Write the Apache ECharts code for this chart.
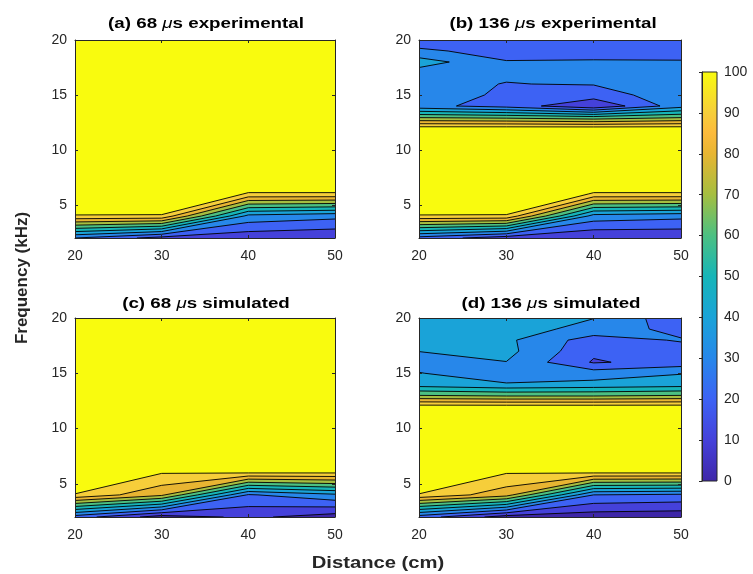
<!DOCTYPE html>
<html>
<head>
<meta charset="utf-8">
<script src="https://cdn.jsdelivr.net/npm/echarts@6/dist/echarts.min.js"></script>
<style>
  html, body { margin: 0; padding: 0; background: #fff; }
  #main { width: 753px; height: 574px; }
</style>
</head>
<body>
<div id="main"></div>
<script>
// grid of the measurements
var distance = [20, 30, 40, 50];
var frequency = [2, 4, 6, 8, 10, 12, 13, 14, 15, 16, 17, 18, 19, 20];
var levels = [0, 10, 20, 30, 40, 50, 60, 70, 80, 90, 100];
var freqTicks = [5, 10, 15, 20];

// one row per frequency (bottom to top), one column per distance
var exp68 = [
    [30, 16, 13, 11],
    [98.5, 98, 37, 33],
    [130, 130, 98, 98],
    [130, 130, 130, 130],
    [130, 130, 130, 130],
    [130, 130, 130, 130],
    [130, 130, 130, 130],
    [130, 130, 130, 130],
    [130, 130, 130, 130],
    [130, 130, 130, 130],
    [130, 130, 130, 130],
    [130, 130, 130, 130],
    [130, 130, 130, 130],
    [130, 130, 130, 130]
];
var exp136 = [
    [26, 14, 10.5, 11],
    [98.5, 98, 36, 33],
    [130, 130, 98, 98],
    [130, 130, 130, 130],
    [130, 130, 130, 130],
    [104, 104, 104, 104],
    [68, 66, 62, 68],
    [33, 26, 11, 36],
    [33, 29, 25, 36],
    [32, 29.8, 30.5, 34],
    [35, 31, 33, 33],
    [45, 30.6, 31, 30.8],
    [32, 26, 26, 26],
    [24, 24, 24, 24]
];
var sim68 = [
    [25, 5, 12, 5],
    [98.5, 82, 29, 38],
    [130, 100.5, 100.5, 100.5],
    [130, 130, 130, 130],
    [130, 130, 130, 130],
    [130, 130, 130, 130],
    [130, 130, 130, 130],
    [130, 130, 130, 130],
    [130, 130, 130, 130],
    [130, 130, 130, 130],
    [130, 130, 130, 130],
    [130, 130, 130, 130],
    [130, 130, 130, 130],
    [130, 130, 130, 130]
];
var sim136 = [
    [25, 5, 4, 3],
    [98.5, 84, 30, 28],
    [130, 100.5, 100.5, 100.5],
    [130, 130, 130, 130],
    [130, 130, 130, 130],
    [104, 104, 104, 104],
    [70, 68, 68, 70],
    [45, 41, 43, 45],
    [40.5, 33, 35, 39.5],
    [35, 39.8, 19, 24],
    [40.2, 43, 22, 25],
    [44, 42, 25, 31],
    [45, 44, 37, 26],
    [46, 45, 40.2, 23]
];

var titles = [
    '(a) 68 {mu|\u03bc}s experimental',
    '(b) 136 {mu|\u03bc}s experimental',
    '(c) 68 {mu|\u03bc}s simulated',
    '(d) 136 {mu|\u03bc}s simulated'
];
var colorbarTicks = [0, 10, 20, 30, 40, 50, 60, 70, 80, 90, 100];

// parula-like colormap
var parula = [
    [0, '#3E26A8'], [10, '#4541DA'], [20, '#3D62F4'], [30, '#2787EA'],
    [40, '#1AA3D8'], [50, '#16B5B8'], [60, '#4CC082'], [70, '#A5BE40'],
    [80, '#E8B532'], [85, '#FCBA3C'], [90, '#F6CE3A'], [100, '#F9FB0E']
];
function colorAt(v) {
    for (var i = 0; i < parula.length; i++) if (parula[i][0] === v) return parula[i][1];
    return parula[parula.length - 1][1];
}

var panels = [
    { values: exp68, left: 75, top: 40, width: 260, height: 198, cx: 206, ty: 24 },
    { values: exp136, left: 419, top: 40, width: 262, height: 198, cx: 553, ty: 24 },
    { values: sim68, left: 75, top: 318, width: 260, height: 199, cx: 206, ty: 304 },
    { values: sim136, left: 419, top: 318, width: 262, height: 199, cx: 551, ty: 304 }
];

// keep the part of a grid cell where value >= lv (corners go round the cell)
function clip(corners, lv) {
    var out = [];
    for (var n = 0; n < 4; n++) {
        var a = corners[n], b = corners[(n + 1) % 4];
        var ina = a[2] >= lv, inb = b[2] >= lv;
        if (ina) out.push([a[0], a[1], a[2], false]);
        if (ina !== inb) {
            var t = (lv - a[2]) / (b[2] - a[2]);
            out.push([a[0] + t * (b[0] - a[0]), a[1] + t * (b[1] - a[1]), lv, true]);
        }
    }
    return out;
}
function fmt(p) { return p[0].toFixed(2) + ' ' + p[1].toFixed(2); }

function contourRenderer(values) {
    return function (params, api) {
        if (params.dataIndex !== 0) return null;
        var fills = levels.map(function () { return ''; });
        var lines = levels.map(function () { return ''; });
        for (var j = 0; j < frequency.length - 1; j++) {
            for (var i = 0; i < distance.length - 1; i++) {
                var corners = [
                    [distance[i], frequency[j], values[j][i]],
                    [distance[i + 1], frequency[j], values[j][i + 1]],
                    [distance[i + 1], frequency[j + 1], values[j + 1][i + 1]],
                    [distance[i], frequency[j + 1], values[j + 1][i]]
                ];
                levels.forEach(function (lv, k) {
                    var poly = clip(corners, lv);
                    if (poly.length < 3) return;
                    var pts = poly.map(function (p) { return api.coord([p[0], p[1]]); });
                    fills[k] += 'M' + pts.map(fmt).join('L') + 'Z';
                    for (var n = 0; n < poly.length; n++) {
                        var m = (n + 1) % poly.length;
                        if (poly[n][3] && poly[m][3]) lines[k] += 'M' + fmt(pts[n]) + 'L' + fmt(pts[m]);
                    }
                });
            }
        }
        var children = [];
        levels.forEach(function (lv, k) {
            if (fills[k]) children.push({ type: 'path', shape: { pathData: fills[k] }, style: { fill: colorAt(lv), stroke: 'none' } });
        });
        levels.forEach(function (lv, k) {
            if (lines[k]) children.push({ type: 'path', shape: { pathData: lines[k] }, style: { fill: 'none', stroke: '#000', lineWidth: 0.9 } });
        });
        return { type: 'group', children: children };
    };
}

var axisColor = '#262626';
var labelFont = 'Liberation Sans';

var grids = [], xAxes = [], yAxes = [], series = [], graphics = [];
panels.forEach(function (p, idx) {
    grids.push({ left: p.left, top: p.top, width: p.width, height: p.height });
    ['bottom', 'top'].forEach(function (pos) {
        xAxes.push({
            type: 'value', gridIndex: idx, position: pos, min: 20, max: 50, interval: 10, z: 5,
            axisLine: { show: true, onZero: false, lineStyle: { color: axisColor, width: 1 } },
            axisTick: { show: true, inside: true, length: 3, lineStyle: { color: axisColor } },
            axisLabel: { show: pos === 'bottom', color: axisColor, fontSize: 14, fontFamily: labelFont, margin: 11 },
            splitLine: { show: false }
        });
    });
    ['left', 'right'].forEach(function (pos) {
        yAxes.push({
            type: 'value', gridIndex: idx, position: pos, min: 2, max: 20, z: 5,
            axisLine: { show: true, onZero: false, lineStyle: { color: axisColor, width: 1 } },
            axisTick: { show: true, inside: true, length: 3, customValues: freqTicks, lineStyle: { color: axisColor } },
            axisLabel: { show: pos === 'left', customValues: freqTicks, color: axisColor, fontSize: 14, fontFamily: labelFont, margin: 8 },
            splitLine: { show: false }
        });
    });
    var data = [];
    frequency.forEach(function (f, j) {
        distance.forEach(function (d, i) { data.push([d, f, p.values[j][i]]); });
    });
    series.push({
        type: 'custom', xAxisIndex: idx * 2, yAxisIndex: idx * 2, z: 1, clip: true,
        renderItem: contourRenderer(p.values), data: data, encode: { x: 0, y: 1 }
    });
    graphics.push({
        type: 'text', x: p.cx, y: p.ty, scaleX: 1.25,
        style: {
            text: titles[idx], fill: '#000', font: 'bold 15px "Liberation Sans"',
            align: 'center', verticalAlign: 'middle', textAlign: 'center', textVerticalAlign: 'middle',
            rich: { mu: { fontStyle: 'italic', fontWeight: 'normal', fontSize: 15, fontFamily: 'Liberation Sans', fill: '#000' } }
        }
    });
});

// colorbar
grids.push({ left: 702, top: 72, width: 15, height: 409 });
xAxes.push({ type: 'value', gridIndex: 4, min: 0, max: 1, show: false });
yAxes.push({
    type: 'value', gridIndex: 4, position: 'right', min: 0, max: 100, interval: 10, z: 5,
    axisLine: { show: true, lineStyle: { color: axisColor, width: 1 } },
    axisTick: { show: true, inside: true, length: 3, lineStyle: { color: axisColor } },
    axisLabel: { color: axisColor, fontSize: 14, fontFamily: labelFont, margin: 7 },
    splitLine: { show: false }
});
series.push({
    type: 'custom', xAxisIndex: 8, yAxisIndex: 8, z: 1,
    data: [[0, colorbarTicks[0]]],
    renderItem: function (params, api) {
        var p0 = api.coord([0, colorbarTicks[0]]);
        var p1 = api.coord([1, colorbarTicks[colorbarTicks.length - 1]]);
        return {
            type: 'rect',
            shape: { x: p0[0], y: p1[1], width: p1[0] - p0[0], height: p0[1] - p1[1] },
            style: {
                fill: {
                    type: 'linear', x: 0, y: 1, x2: 0, y2: 0,
                    colorStops: parula.map(function (s) { return { offset: s[0] / 100, color: s[1] }; })
                },
                stroke: axisColor, lineWidth: 1
            }
        };
    }
});

graphics.push({
    type: 'text', x: 22, y: 278, rotation: Math.PI / 2,
    style: { text: 'Frequency (kHz)', fill: '#262626', font: 'bold 17px "Liberation Sans"',
             align: 'center', verticalAlign: 'middle', textAlign: 'center', textVerticalAlign: 'middle' }
});
graphics.push({
    type: 'text', x: 378, y: 563, scaleX: 1.19,
    style: { text: 'Distance (cm)', fill: '#262626', font: 'bold 17px "Liberation Sans"',
             align: 'center', verticalAlign: 'middle', textAlign: 'center', textVerticalAlign: 'middle' }
});

var chart = echarts.init(document.getElementById('main'));
chart.setOption({
    animation: false,
    backgroundColor: '#fff',
    grid: grids,
    xAxis: xAxes,
    yAxis: yAxes,
    series: series,
    graphic: graphics
});
</script>
</body>
</html>
